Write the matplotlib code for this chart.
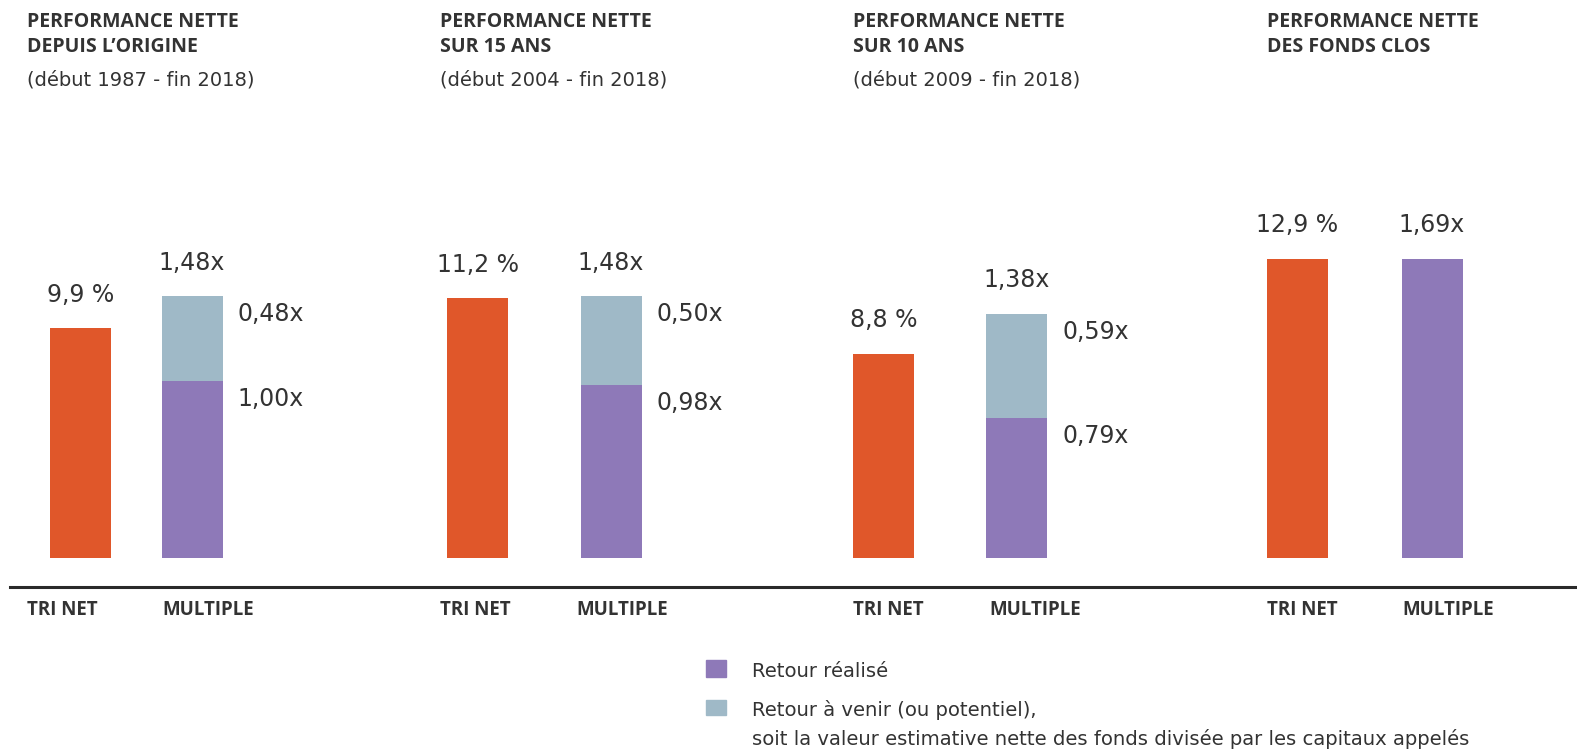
import matplotlib.pyplot as plt
from matplotlib import font_manager as fm
from matplotlib.patches import Rectangle
from matplotlib.lines import Line2D

# data
titres = ["PERFORMANCE NETTE\nDEPUIS L\u2019ORIGINE", "PERFORMANCE NETTE\nSUR 15 ANS",
          "PERFORMANCE NETTE\nSUR 10 ANS", "PERFORMANCE NETTE\nDES FONDS CLOS"]
periodes = ["(d\u00e9but 1987 - fin 2018)", "(d\u00e9but 2004 - fin 2018)",
            "(d\u00e9but 2009 - fin 2018)", ""]
tri_net = [9.9, 11.2, 8.8, 12.9]
realise = [1.00, 0.98, 0.79, 1.69]
a_venir = [0.48, 0.50, 0.59, 0.0]
multiple = [1.48, 1.48, 1.38, 1.69]

ORANGE = "#E0572A"
VIOLET = "#8E79B8"
BLEU = "#9FB9C7"
TXT = "#333333"

W, H = 1577, 751
fig = plt.figure(figsize=(W / 100, H / 100), dpi=100)

def fmt(v, d=1):
    return ("{:.%df}" % d).format(v).replace(".", ",")

# pick a plain (non condensed, non variable) bold file
bold_file = None
for fam in ("Open Sans", "Noto Sans"):
    for f in fm.fontManager.ttflist:
        low = f.fname.lower()
        if f.name == fam and f.weight == 700 and f.style == "normal" \
                and f.stretch in ("normal", 500) and "cond" not in low \
                and "narrow" not in low and "[" not in low and "italic" not in low:
            bold_file = f.fname
            break
    if bold_file:
        break

def bold_font(size):
    if bold_file:
        return fm.FontProperties(fname=bold_file, size=size)
    return fm.FontProperties(family="DejaVu Sans", weight="bold", size=size)

# layout (pixels)
tri_cx = [80.5, 478, 883.5, 1297]
mul_cx = [192, 611, 1016.5, 1432]
text_x = [27, 440, 853, 1267]
mul_x = [162, 576, 989, 1402]
bar_w_px = 61
base_px = 558
top_px = 150
px_per_pct = 23.2
px_per_x = 177

font_light = ["DejaVu Sans"]

for i in range(4):
    s = mul_cx[i] - tri_cx[i]
    left = tri_cx[i] - 0.5 * s
    ax = fig.add_axes([left / W, (H - base_px) / H, 2 * s / W, (base_px - top_px) / H])
    ax2 = ax.twinx()
    hpx = base_px - top_px
    ax.set_ylim(0, hpx / px_per_pct)
    ax2.set_ylim(0, hpx / px_per_x)
    ax.set_xlim(-0.5, 1.5)
    bw = bar_w_px / s

    ax.bar(0, tri_net[i], width=bw, color=ORANGE)
    ax2.bar(1, realise[i], width=bw, color=VIOLET)
    if a_venir[i] > 0:
        ax2.bar(1, a_venir[i], bottom=realise[i], width=bw, color=BLEU)

    ax.annotate(fmt(tri_net[i]) + " %", (0, tri_net[i]), xytext=(0, 19),
                textcoords="offset points", ha="center", va="baseline",
                fontsize=17, color=TXT, family=font_light)
    ax2.annotate(fmt(multiple[i], 2) + "x", (1, multiple[i]), xytext=(0, 19),
                 textcoords="offset points", ha="center", va="baseline",
                 fontsize=17, color=TXT, family=font_light)
    if a_venir[i] > 0:
        xr = 1 + bw / 2
        ax2.annotate(fmt(a_venir[i], 2) + "x", (xr, multiple[i]), xytext=(11, -18),
                     textcoords="offset points", ha="left", va="baseline",
                     fontsize=17, color=TXT, family=font_light)
        ax2.annotate(fmt(realise[i], 2) + "x", (xr, realise[i]), xytext=(11, -18),
                     textcoords="offset points", ha="left", va="baseline",
                     fontsize=17, color=TXT, family=font_light)

    for a in (ax, ax2):
        a.axis("off")

    # headers
    l1, l2 = titres[i].split("\n")
    fig.text(text_x[i] / W, 1 - 27 / H, l1, fontproperties=bold_font(14),
             color=TXT, va="baseline")
    fig.text(text_x[i] / W, 1 - 52 / H, l2, fontproperties=bold_font(14),
             color=TXT, va="baseline")
    if periodes[i]:
        fig.text(text_x[i] / W, 1 - 86 / H, periodes[i], fontsize=14,
                 color=TXT, family=font_light, va="baseline")

    # category labels
    fig.text(text_x[i] / W, 1 - 615 / H, "TRI NET", fontproperties=bold_font(13.5),
             color=TXT, va="baseline")
    fig.text(mul_x[i] / W, 1 - 615 / H, "MULTIPLE", fontproperties=bold_font(13.5),
             color=TXT, va="baseline")

# baseline rule
fig.add_artist(Line2D([10 / W, 1], [1 - 587 / H, 1 - 587 / H], color="#2a2a2a", lw=2.2))

# legend
fig.add_artist(Rectangle((706 / W, 1 - 677 / H), 20 / W, 17 / H, color=VIOLET))
fig.add_artist(Rectangle((706 / W, 1 - 715 / H), 20 / W, 15 / H, color=BLEU))
fig.text(752 / W, 1 - 677 / H, "Retour r\u00e9alis\u00e9", fontsize=14.1, color=TXT,
         family=font_light, va="baseline")
fig.text(752 / W, 1 - 716 / H, "Retour \u00e0 venir (ou potentiel),", fontsize=14.1,
         color=TXT, family=font_light, va="baseline")
fig.text(752 / W, 1 - 745 / H,
         "soit la valeur estimative nette des fonds divis\u00e9e par les capitaux appel\u00e9s",
         fontsize=14.1, color=TXT, family=font_light, va="baseline")

fig.savefig("out.png", dpi=100)
